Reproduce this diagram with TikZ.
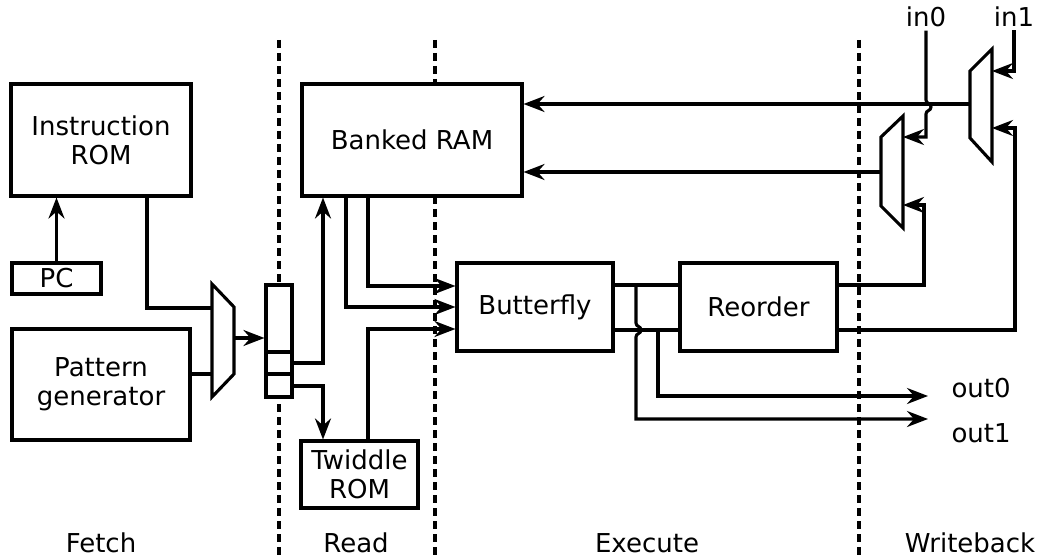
\documentclass[tikz,border=0pt]{standalone}
\usepackage{fontspec}
\setmainfont{DejaVu Sans}
\usetikzlibrary{arrows.meta}
\begin{document}
\begin{tikzpicture}[x=1pt,y=-1pt,
  every node/.style={font=\fontsize{26}{29}\selectfont},
  wire/.style={line width=3.1pt},
  blk/.style={draw,line width=3.1pt,fill=white,inner sep=0pt,align=center},
  arr/.style={line width=3.1pt,-{Stealth[length=21pt,width=16pt,inset=7pt]}},
  stageline/.style={line width=3.1pt,dash pattern=on 8pt off 5pt},
  lbl/.style={inner sep=3pt}]
\useasboundingbox (0,0) rectangle (1042,559);

% pipeline stage separators
\draw[stageline] (279,40) -- (279,559);
\draw[stageline] (435,40) -- (435,559);
\draw[stageline] (859,40) -- (859,559);

% stage names
\node[anchor=base,inner sep=0pt] (sf) at (101,552) {Fetch};
\node[anchor=base,inner sep=0pt] (sr) at (356,552) {Read};
\node[anchor=base,inner sep=0pt] (se) at (647,552) {Execute};
\node[anchor=base,inner sep=0pt] (sw) at (970,552) {Writeback};

% blocks
\node[blk,minimum width=180,minimum height=112] (irom) at (101,140) {Instruction\\ROM};
\node[blk,minimum width=89,minimum height=31] (pc) at (56.5,278.5) {PC};
\node[blk,minimum width=178,minimum height=111] (pg) at (101,384.5) {Pattern\\generator};
\node[blk,minimum width=220,minimum height=112] (ram) at (412,140) {Banked RAM};
\node[blk,minimum width=117,minimum height=67] (tw) at (359.5,474.5) {Twiddle\\ROM};
\node[blk,minimum width=156,minimum height=88] (bf) at (535,307) {Butterfly};
\node[blk,minimum width=157,minimum height=88] (ro) at (758.5,307) {Reorder};

% pipeline register
\node[blk,minimum width=26,minimum height=112] (reg) at (279,341) {};
\draw[wire] (266,352) -- (292,352);
\draw[wire] (266,374) -- (292,374);
\coordinate (r1) at (292,363);
\coordinate (r2) at (292,386);

% fetch multiplexer
\draw[wire,fill=white] (212,284) -- (234,307) -- (234,374) -- (212,397) -- cycle;
\coordinate (m1a) at (212,308);
\coordinate (m1b) at (212,374);
\coordinate (m1o) at (234,338);

% writeback multiplexers
\draw[wire,fill=white] (881,137) -- (903,116) -- (903,228) -- (881,206) -- cycle;
\coordinate (w0a) at (903,137);
\coordinate (w0b) at (903,205);
\coordinate (w0o) at (881,172);
\draw[wire,fill=white] (970,71) -- (992,49) -- (992,162) -- (970,138) -- cycle;
\coordinate (w1a) at (992,71);
\coordinate (w1b) at (992,128);
\coordinate (w1o) at (970,104);

% external ports
\node[anchor=base,lbl] (in0) at (926,27) {in0};
\node[anchor=base,lbl] (in1) at (1014,27) {in1};
\node[anchor=base west] (out0) at (948,397) {out0};
\node[anchor=base west] (out1) at (948,442) {out1};
\coordinate (o0) at (928,396);
\coordinate (o1) at (928,419);

% fetch stage
\draw[arr] (pc.north) -- (pc.north |- irom.south);
\draw[wire] (irom.south) ++(46,0) |- (m1a);
\draw[wire] (m1b -| pg.east) -- (m1b);
\draw[arr] (m1o) -- (m1o -| reg.west);

% read stage
\draw[arr] (r1) -| ([xshift=-89pt]ram.south);
\draw[arr] (r2) -| ([xshift=-36.5pt]tw.north);

% execute stage inputs
\draw[arr] ([xshift=-44pt]ram.south) |- ([yshift=21pt]bf.west);
\draw[arr] ([xshift=-66pt]ram.south) |- (bf.west);
\draw[arr] ([xshift=8.5pt]tw.north) |- ([yshift=-22pt]bf.west);

% butterfly to reorder, with taps to the outputs
\draw[wire] (613,285) -- (680,285);
\draw[wire] (613,330) -- (680,330);
\draw[arr] (636,285) -- (636,323) .. controls (636,327) and (641,326) .. (641,330)
  .. controls (641,334) and (636,333) .. (636,337) |- (o1);
\draw[arr] (658,330) |- (o0);

% writeback paths
\draw[arr] (837,285) -| (924,240) |- (w0b);
\draw[arr] (837,330) -| (1015,240) |- (w1b);
\draw[arr] (w0o) -- (w0o -| ram.east);
\draw[arr] (w1o) -- (w1o -| ram.east);
\draw[arr] (in0.south) -- (926,100) .. controls (926,104) and (931,103) .. (931,107)
  .. controls (931,111) and (926,110) .. (926,114) |- (w0a);
\draw[arr] (in1.south) |- (w1a);
\end{tikzpicture}
\end{document}
